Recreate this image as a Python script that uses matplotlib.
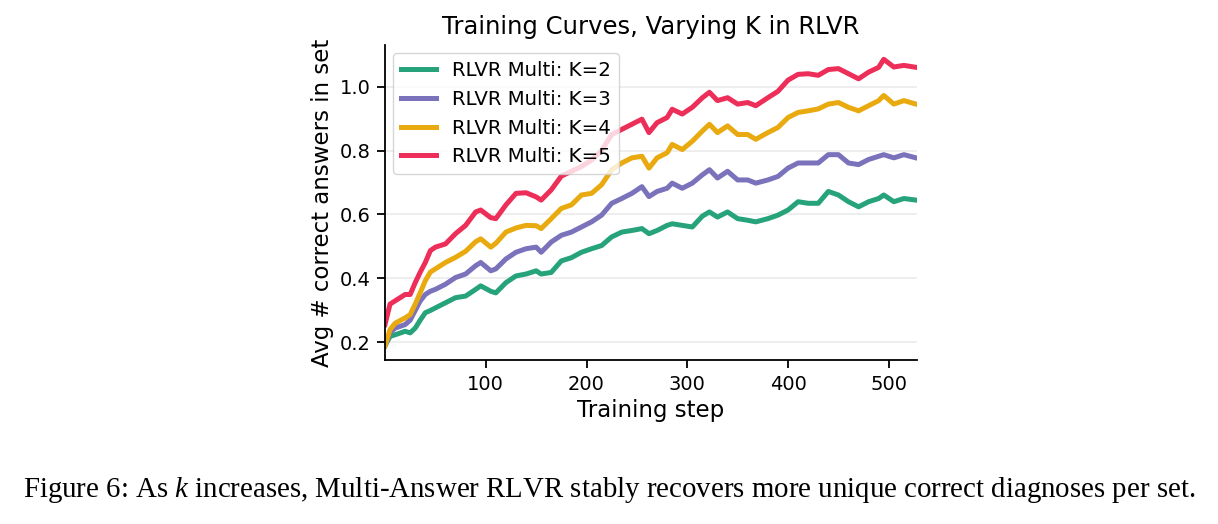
import matplotlib
matplotlib.use("Agg")
import matplotlib.pyplot as plt

# data (values at selected training steps)
steps = [0, 5, 10, 20, 25, 30, 35, 40, 45, 50, 60, 70, 80, 90, 95, 105, 110, 120,
         130, 140, 150, 155, 165, 175, 185, 195, 205, 215, 225, 235, 245, 255, 262,
         270, 280, 285, 295, 305, 315, 322, 330, 340, 350, 360, 368, 380, 390, 400,
         410, 420, 430, 440, 450, 460, 470, 480, 490, 495, 505, 515, 527]

k2 = [0.19, 0.219, 0.224, 0.235, 0.23, 0.245, 0.27, 0.293, 0.30, 0.308, 0.324, 0.34,
      0.345, 0.366, 0.377, 0.36, 0.355, 0.387, 0.408, 0.414, 0.424, 0.414, 0.419,
      0.455, 0.465, 0.482, 0.493, 0.503, 0.53, 0.545, 0.55, 0.556, 0.54, 0.55, 0.566,
      0.571, 0.566, 0.561, 0.595, 0.608, 0.592, 0.608, 0.587, 0.582, 0.577, 0.587,
      0.598, 0.614, 0.64, 0.635, 0.635, 0.672, 0.661, 0.64, 0.624, 0.64, 0.65, 0.661,
      0.64, 0.65, 0.645]

k3 = [0.19, 0.23, 0.245, 0.256, 0.27, 0.30, 0.33, 0.35, 0.36, 0.366, 0.382, 0.403,
      0.414, 0.44, 0.45, 0.424, 0.43, 0.461, 0.482, 0.493, 0.498, 0.482, 0.514,
      0.535, 0.545, 0.561, 0.577, 0.598, 0.635, 0.65, 0.666, 0.687, 0.656, 0.672,
      0.682, 0.698, 0.682, 0.698, 0.724, 0.74, 0.714, 0.735, 0.708, 0.708, 0.698,
      0.708, 0.719, 0.745, 0.761, 0.761, 0.761, 0.787, 0.787, 0.761, 0.756, 0.772,
      0.782, 0.787, 0.777, 0.787, 0.777]

k4 = [0.19, 0.24, 0.26, 0.277, 0.287, 0.32, 0.356, 0.393, 0.42, 0.43, 0.45, 0.466,
      0.485, 0.515, 0.524, 0.498, 0.51, 0.545, 0.558, 0.566, 0.565, 0.556, 0.587,
      0.619, 0.63, 0.661, 0.666, 0.693, 0.74, 0.761, 0.777, 0.782, 0.745, 0.777,
      0.793, 0.819, 0.803, 0.829, 0.861, 0.882, 0.856, 0.877, 0.85, 0.85, 0.835,
      0.856, 0.872, 0.903, 0.919, 0.924, 0.93, 0.945, 0.95, 0.935, 0.924, 0.94,
      0.956, 0.972, 0.945, 0.956, 0.945]

k5 = [0.256, 0.32, 0.33, 0.35, 0.35, 0.387, 0.42, 0.45, 0.487, 0.498, 0.508, 0.54,
      0.566, 0.608, 0.614, 0.59, 0.587, 0.63, 0.666, 0.668, 0.655, 0.645, 0.677,
      0.72, 0.735, 0.75, 0.77, 0.80, 0.85, 0.866, 0.882, 0.898, 0.856, 0.887, 0.903,
      0.929, 0.914, 0.935, 0.965, 0.982, 0.956, 0.965, 0.945, 0.95, 0.94, 0.965,
      0.985, 1.02, 1.038, 1.04, 1.035, 1.053, 1.056, 1.04, 1.024, 1.045, 1.06,
      1.085, 1.061, 1.066, 1.06]

labels = ["RLVR Multi: K=2", "RLVR Multi: K=3", "RLVR Multi: K=4", "RLVR Multi: K=5"]
colors = ["#27a37c", "#7a72bb", "#e8aa0e", "#ec2e58"]

plt.rcParams["mathtext.fontset"] = "custom"
plt.rcParams["mathtext.it"] = "Liberation Serif:italic"

fig = plt.figure(figsize=(12.18, 5.24), dpi=100)
ax = fig.add_axes([385 / 1218, 1 - 360 / 524, 532 / 1218, 315 / 524])

for ys, lab, c in zip([k2, k3, k4, k5], labels, colors):
    ax.plot(steps, ys, color=c, lw=3.6, label=lab)

ax.set_xlim(0, 528)
ax.set_xticks([100, 200, 300, 400, 500])
ax.set_yticks([0.2, 0.4, 0.6, 0.8, 1.0])
ax.yaxis.grid(True, color="#ebebeb", lw=1.2)
ax.set_axisbelow(True)
ax.spines["top"].set_visible(False)
ax.spines["right"].set_visible(False)
for s in ["left", "bottom"]:
    ax.spines[s].set_linewidth(1.3)
ax.tick_params(labelsize=14, length=5.5, width=1.3, pad=5)

ax.set_title("Training Curves, Varying K in RLVR", fontsize=17.5, pad=8)
ax.set_xlabel("Training step", fontsize=16.5)
ax.set_ylabel("Avg # correct answers in set", fontsize=16.5)
ax.legend(loc="upper left", fontsize=14.2, handlelength=1.8, borderaxespad=0.4)

fig.text(0.5, 1 - 490 / 524,
         "Figure 6: As $k$ increases, Multi-Answer RLVR stably recovers more unique correct diagnoses per set.",
         ha="center", va="center", fontsize=20.8, family="Liberation Serif")

fig.savefig("out.png", dpi=100)
